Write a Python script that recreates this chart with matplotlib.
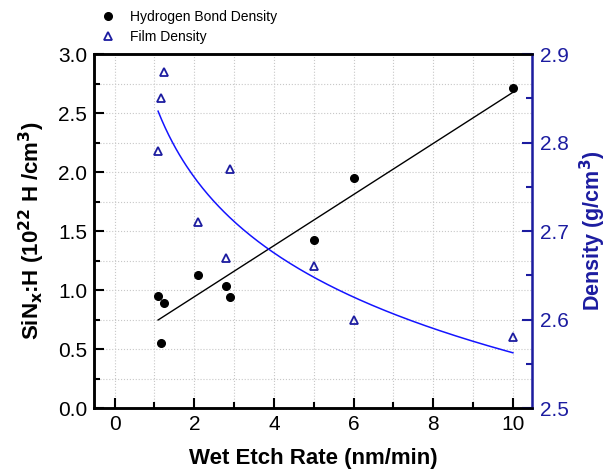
import matplotlib
matplotlib.use("Agg")
import matplotlib.pyplot as plt
import numpy as np
from matplotlib.ticker import MultipleLocator

plt.rcParams['font.family'] = ['Liberation Sans', 'DejaVu Sans']

# donnees
etch_h = [1.09, 1.23, 1.16, 2.08, 2.79, 2.89, 5.0, 6.0, 10.0]
h_density = [0.95, 0.89, 0.55, 1.13, 1.03, 0.94, 1.42, 1.95, 2.71]

etch_f = [1.23, 1.16, 1.09, 2.89, 2.08, 2.79, 5.0, 6.0, 10.0]
film_density = [2.88, 2.85, 2.79, 2.77, 2.71, 2.67, 2.66, 2.60, 2.58]

BLUE_DK = '#1c1ca0'
BLUE_LINE = '#1414ff'

fig = plt.figure(figsize=(6.11, 4.73), dpi=100)
ax = fig.add_axes([0.1538, 0.1374, 0.8707 - 0.1538, 0.8858 - 0.1374])
ax2 = ax.twinx()

# ajustement lineaire (H) et logarithmique (densite)
p = np.polyfit(etch_h, h_density, 1)
xf = np.linspace(min(etch_h), max(etch_h), 100)
ax.plot(xf, np.polyval(p, xf), color='black', lw=1.0, zorder=2)
l1, = ax.plot(etch_h, h_density, 'o', color='black', ms=5.5, zorder=3,
              label='Hydrogen Bond Density')

q = np.polyfit(np.log(etch_f), film_density, 1)
xg = np.linspace(min(etch_f), max(etch_f), 200)
ax2.plot(xg, np.polyval(q, np.log(xg)), color=BLUE_LINE, lw=1.1)
l2, = ax2.plot(etch_f, film_density, '^', mfc='none', mec=BLUE_DK, mew=1.3,
               ms=6, label='Film Density')

ax.set_xlim(-0.52, 10.48)
ax.set_ylim(0, 3.0)
ax2.set_ylim(2.5, 2.9)

ax.xaxis.set_major_locator(MultipleLocator(2))
ax.xaxis.set_minor_locator(MultipleLocator(1))
ax.yaxis.set_major_locator(MultipleLocator(0.5))
ax.yaxis.set_minor_locator(MultipleLocator(0.25))
ax2.yaxis.set_major_locator(MultipleLocator(0.1))
ax2.yaxis.set_minor_locator(MultipleLocator(0.05))
ax.yaxis.set_major_formatter('{x:.1f}')
ax2.yaxis.set_major_formatter('{x:.1f}')

ax.grid(True, which='both', color='#c8c8c8', ls=':', lw=0.8)
ax.set_axisbelow(True)

ax.tick_params(which='both', direction='in', labelsize=15, width=1.5)
ax.tick_params(which='major', length=7)
ax.tick_params(which='minor', length=4)
ax.tick_params(axis='x', pad=5)
ax.tick_params(axis='y', pad=5)
ax2.tick_params(which='both', direction='in', labelsize=15, width=1.5,
                colors=BLUE_DK, pad=6)
ax2.tick_params(which='major', length=7)
ax2.tick_params(which='minor', length=4)

for s in ['left', 'bottom', 'top']:
    ax.spines[s].set_linewidth(1.8)
    ax2.spines[s].set_linewidth(1.8)
ax2.spines['right'].set_linewidth(1.8)
ax2.spines['right'].set_color(BLUE_DK)

ax.set_xlabel('Wet Etch Rate (nm/min)', fontsize=16, fontweight='bold',
              labelpad=10)
ax.set_ylabel(r'SiN$_\mathbf{x}$:H (10$^{\mathbf{22}}$ H /cm$^\mathbf{3}$)',
              fontsize=16, fontweight='bold', labelpad=8)
ax2.set_ylabel(r'Density (g/cm$^\mathbf{3}$)', fontsize=15.5,
               fontweight='bold', color=BLUE_DK, labelpad=6)

fig.legend(handles=[l1, l2], loc='upper left', bbox_to_anchor=(0.142, 1.006),
           frameon=False, fontsize=10, handletextpad=1.0, labelspacing=0.45,
           handlelength=1.2)

fig.savefig('out.png', dpi=100)
